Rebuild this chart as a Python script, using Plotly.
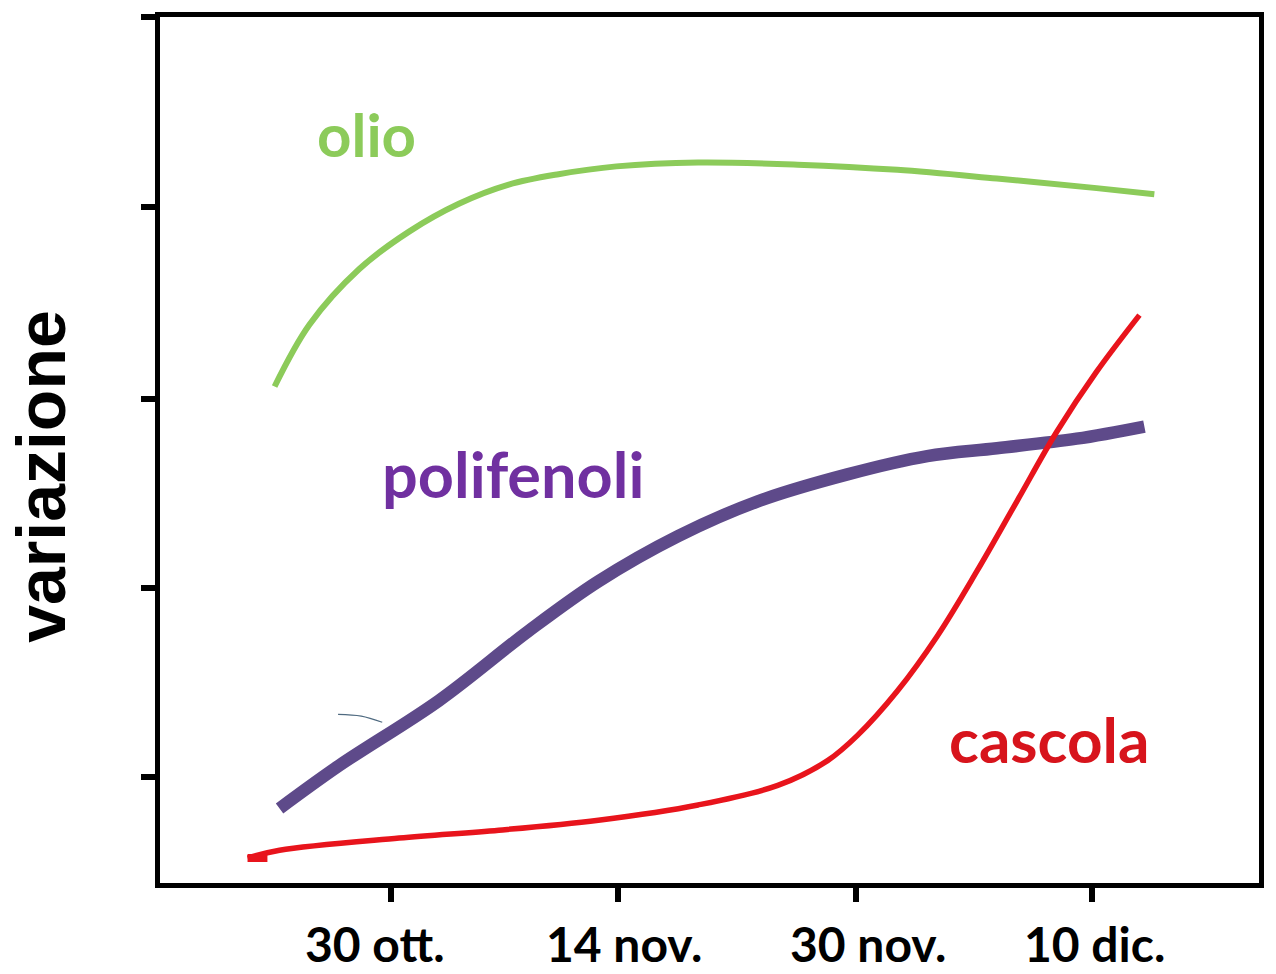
import plotly.graph_objects as go

# Data (x in arbitrary time units, y in arbitrary "variazione" units)
olio_x = [1.065, 1.380, 1.832, 2.283, 2.734, 3.186, 3.637, 4.161, 4.901, 5.803, 6.706, 7.608, 8.511, 9.034]
olio_y = [57.3, 64.4, 70.8, 75.1, 78.3, 80.5, 81.7, 82.6, 83.05, 82.8, 82.2, 81.2, 80.1, 79.4]

poli_x = [1.110, 1.652, 2.554, 3.366, 3.998, 4.720, 5.442, 6.254, 6.977, 7.608, 8.330, 8.944]
poli_y = [8.8, 13.75, 21.2, 29.2, 34.9, 40.1, 44.1, 47.2, 49.3, 50.2, 51.3, 52.7]

casc_x = [0.821, 1.110, 2.193, 3.096, 3.998, 4.901, 5.623, 6.074, 6.345, 6.706, 7.067, 7.428, 7.789, 8.150, 8.511, 8.899]
casc_y = [3.1, 4.0, 5.4, 6.3, 7.45, 9.2, 11.45, 14.3, 17.2, 22.3, 28.6, 36.1, 44.1, 52.1, 59.0, 65.5]

stroke_x = [1.64, 1.85, 2.04]
stroke_y = [19.6, 19.4, 18.7]

blob_x = [0.82, 1.0]
blob_y = [3.1, 3.1]

tick_x_vals = [2.121, 4.179, 6.327, 8.466]
tick_x_text = ["30 ott.", "14 nov.", "30 nov.", "10 dic."]
tick_label_x = [1.977, 4.233, 6.444, 8.493]
tick_y_vals = [12.37, 34.14, 55.90, 77.89, 99.75]

labels = ["olio", "polifenoli", "cascola"]
label_x = [1.895, 3.222, 8.078]
label_y = [86.3, 47.3, 16.8]
label_colors = ["#8CCB5A", "#7030A0", "#D7141C"]

fig = go.Figure()
fig.add_trace(go.Scatter(x=olio_x, y=olio_y, mode="lines",
                         line=dict(color="#8CCB5A", width=6, shape="spline", smoothing=1.0)))
fig.add_trace(go.Scatter(x=poli_x, y=poli_y, mode="lines",
                         line=dict(color="#5E4A8A", width=12.5, shape="spline", smoothing=1.0)))
fig.add_trace(go.Scatter(x=casc_x, y=casc_y, mode="lines",
                         line=dict(color="#E8141C", width=5.5, shape="spline", smoothing=1.0)))
fig.add_trace(go.Scatter(x=blob_x, y=blob_y, mode="lines",
                         line=dict(color="#E8141C", width=8)))
fig.add_trace(go.Scatter(x=stroke_x, y=stroke_y, mode="lines",
                         line=dict(color="#4F6A80", width=1.2, shape="spline")))

label_sizes = [60, 63, 62]
for t, xx, yy, c, s in zip(labels, label_x, label_y, label_colors, label_sizes):
    fig.add_annotation(x=xx, y=yy, text="<b>%s</b>" % t, showarrow=False,
                       font=dict(family="Lato", size=s, color=c),
                       xanchor="center", yanchor="middle")

for t, xx in zip(tick_x_text, tick_label_x):
    fig.add_annotation(x=xx, xref="x", y=0, yref="paper", yshift=-60,
                       text="<b>%s</b>" % t, showarrow=False,
                       font=dict(family="Lato", size=48, color="black"),
                       xanchor="center", yanchor="middle")

fig.add_annotation(xref="paper", yref="paper", x=0, xshift=-119, y=0.469,
                   text="<b>variazione</b>", showarrow=False, textangle=-90,
                   font=dict(family="Liberation Sans", size=68, color="black"),
                   xanchor="center", yanchor="middle")

fig.update_layout(
    width=1276, height=974,
    margin=dict(l=160, r=13, t=14, b=91),
    plot_bgcolor="white", paper_bgcolor="white",
    showlegend=False,
    xaxis=dict(range=[0.027, 9.982], showgrid=False, zeroline=False,
               showline=True, linecolor="black", linewidth=5, mirror=True,
               ticks="outside", ticklen=14, tickwidth=6, tickcolor="black",
               tickvals=tick_x_vals, showticklabels=False),
    yaxis=dict(range=[0.229, 99.77], showgrid=False, zeroline=False,
               showline=True, linecolor="black", linewidth=5, mirror=True,
               ticks="outside", ticklen=14, tickwidth=6, tickcolor="black",
               tickvals=tick_y_vals, showticklabels=False),
)

fig.write_html("out.html", config={"displayModeBar": False},
               post_script="document.body.style.margin='0';document.body.style.overflow='hidden';")
